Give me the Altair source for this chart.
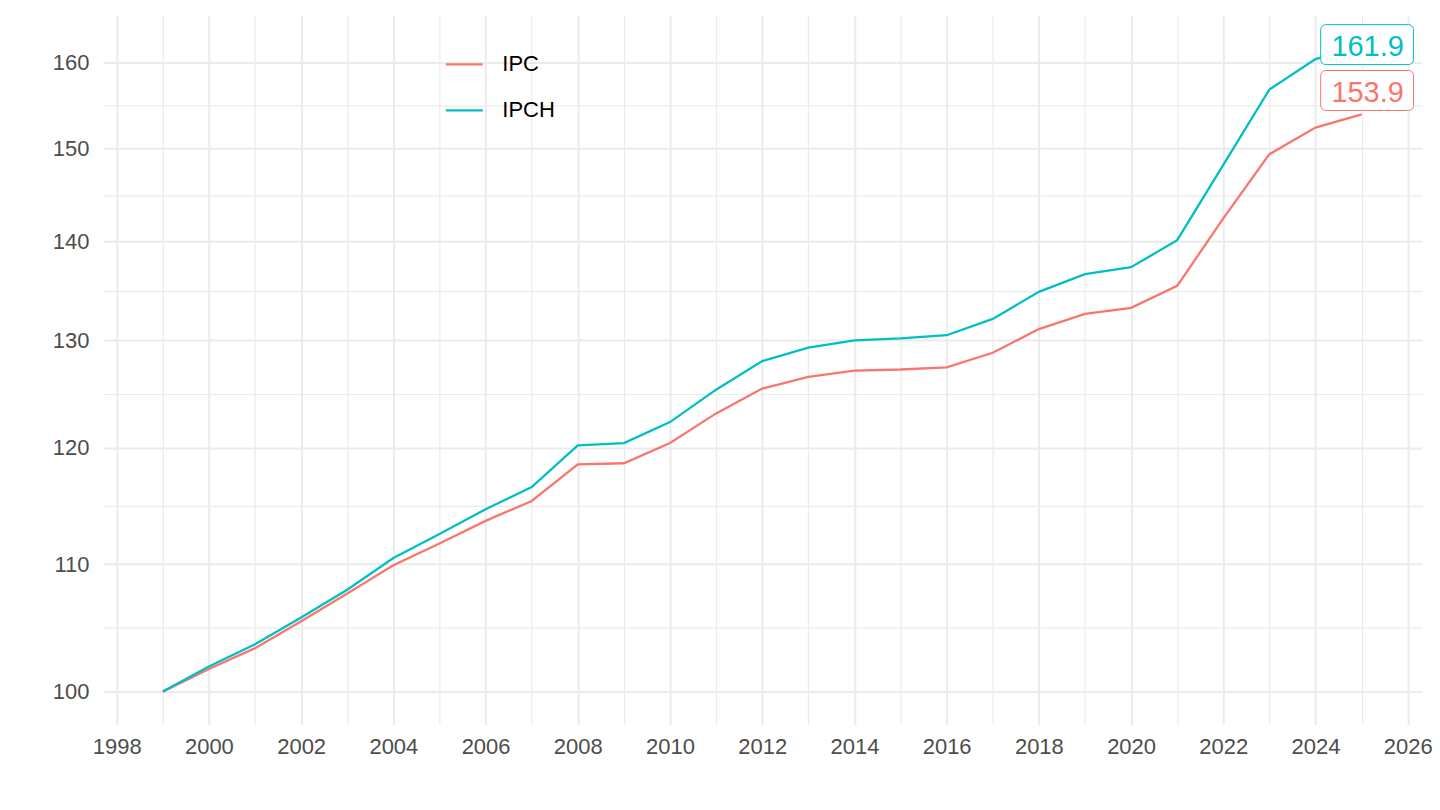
import altair as alt
import pandas as pd

years = list(range(1999, 2026))
ipc = [100, 101.7, 103.3, 105.4, 107.6, 109.9, 111.7, 113.6, 115.3, 118.5, 118.6,
       120.4, 123.1, 125.4, 126.5, 127.1, 127.2, 127.4, 128.8, 131.1, 132.6, 133.2,
       135.4, 142.4, 149.4, 152.4, 153.9]
ipch = [100, 101.9, 103.6, 105.7, 107.9, 110.5, 112.5, 114.6, 116.5, 120.2, 120.4,
        122.3, 125.3, 128.0, 129.3, 130.0, 130.2, 130.5, 132.1, 134.8, 136.6, 137.3,
        140.1, 148.2, 156.8, 160.4, 161.9]
series_names = ["IPC", "IPCH"]
series_colors = ["#F8766D", "#00BFC4"]

x_grid = list(range(1998, 2027))
y_major = [100, 110, 120, 130, 140, 150, 160]
y_minor = [104.88, 114.89, 124.90, 134.91, 144.91, 154.92]

df = pd.DataFrame({
    "year": years * 2,
    "value": ipc + ipch,
    "series": ["IPC"] * len(years) + ["IPCH"] * len(years),
})
end_ipc = pd.DataFrame({"year": [years[-1]], "value": [ipc[-1]], "label": [f"{ipc[-1]:.1f}"]})
end_ipch = pd.DataFrame({"year": [years[-1]], "value": [ipch[-1]], "label": [f"{ipch[-1]:.1f}"]})

FONT = "Liberation Sans, Arial, Helvetica"
xscale = alt.Scale(domain=[1997.70, 2026.31], nice=False, zero=False)
yscale = alt.Scale(type="log", domain=[97.57, 165.7], nice=False, zero=False)

x_axis = alt.Axis(
    values=x_grid, grid=True, gridColor="#EBEBEB",
    gridWidth={"condition": {"test": "datum.value % 2 == 0", "value": 2}, "value": 1.2},
    ticks=False, tickSize=0, domain=False, labelFontSize=22,
    labelColor="#4D4D4D", labelFont=FONT, labelPadding=12, format="d",
    labelFlush=False, labelOverlap=False,
    labelExpr="datum.value % 2 == 0 ? datum.label : ''",
)
y_axis = alt.Axis(
    values=sorted(y_major + y_minor), grid=True, gridColor="#EBEBEB",
    gridWidth={"condition": {"test": "datum.value % 10 == 0", "value": 2}, "value": 1.2},
    ticks=False, tickSize=0, domain=False, labelFontSize=22,
    labelColor="#4D4D4D", labelFont=FONT, labelPadding=14, format="d",
    labelOverlap=False,
    labelExpr="datum.value % 10 == 0 ? datum.label : ''",
)

X = alt.X("year:Q", scale=xscale, axis=x_axis, title=None)
Y = alt.Y("value:Q", scale=yscale, axis=y_axis, title=None)

lines = alt.Chart(df).mark_line(strokeWidth=2.3).encode(
    x=X,
    y=Y,
    color=alt.Color("series:N", title=None,
                    scale=alt.Scale(domain=series_names, range=series_colors),
                    legend=alt.Legend(orient="none", legendX=342, legendY=29,
                                      symbolType="stroke", symbolSize=1369,
                                      symbolStrokeWidth=2.3, labelFontSize=22,
                                      labelFont=FONT, labelColor="#000000",
                                      labelOffset=18, rowPadding=15)),
)


def box(data, color, y_off, y2_off):
    return alt.Chart(data).mark_rect(
        fill="white", stroke=color, strokeWidth=1, cornerRadius=5,
        xOffset=-41, x2Offset=52, yOffset=y_off, y2Offset=y2_off,
    ).encode(x=X, x2="year:Q", y=Y, y2="value:Q")


def label(data, color, dy):
    return alt.Chart(data).mark_text(
        font=FONT, fontSize=29, color=color, align="center",
        baseline="alphabetic", dx=6, dy=dy,
    ).encode(x=X, y=Y, text="label:N")


chart = alt.layer(
    lines,
    box(end_ipch, series_colors[1], -22, 18),
    box(end_ipc, series_colors[0], -44, -4),
    label(end_ipch, series_colors[1], 9),
    label(end_ipc, series_colors[0], -12.5),
).properties(
    width=1321, height=710,
    background="white",
    autosize=alt.AutoSizeParams(type="none"),
    padding={"left": 95, "top": 7, "right": 10, "bottom": 60},
).configure_view(strokeWidth=0)

chart.save("out.html", embed_options={"renderer": "svg", "actions": False})
